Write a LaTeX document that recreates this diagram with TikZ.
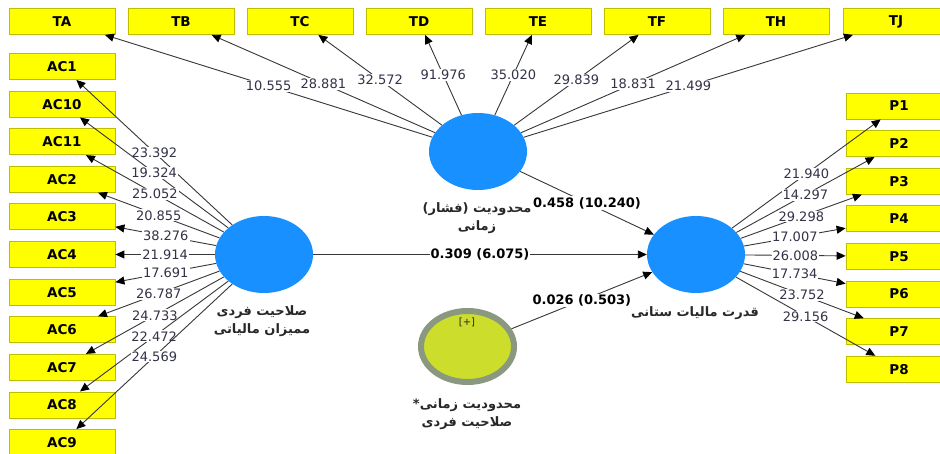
\documentclass[tikz,border=0pt]{standalone}
\usepackage{fontspec}
\setmainfont{DejaVu Sans}
\newfontfamily\fa[Script=Arabic]{DejaVu Sans}
\TeXXeTstate=1
\usetikzlibrary{arrows.meta,shapes.geometric}
\definecolor{boxy}{RGB}{255,255,0}
\definecolor{boxb}{RGB}{190,190,0}
\definecolor{lv}{RGB}{24,144,255}
\definecolor{gfill}{RGB}{204,221,44}
\definecolor{gring}{RGB}{138,152,128}
\definecolor{edgec}{RGB}{55,55,55}
\definecolor{numc}{RGB}{50,50,72}
\definecolor{labc}{RGB}{40,40,40}
\begin{document}
\begin{tikzpicture}[x=1pt,y=-1pt,
 ind/.style={draw=boxb,fill=boxy,line width=0.8pt,minimum width=106pt,minimum height=26pt,inner sep=0pt,font=\bfseries\fontsize{13.5}{15}\selectfont},
 lvar/.style={ellipse,fill=lv,minimum width=98pt,minimum height=77pt,inner sep=0pt},
 ld/.style={draw=edgec,line width=0.9pt,-{Triangle[length=9pt,width=8pt,color=black]}},
 num/.style={midway,fill=white,inner sep=1pt,text=numc,font=\fontsize{13}{15}\selectfont},
 pnum/.style={midway,fill=white,inner sep=1pt,text=black,font=\bfseries\fontsize{13}{15}\selectfont},
 flab/.style={align=center,inner sep=0pt,text=labc,font=\fa\bfseries\fontsize{13}{18}\selectfont}
]
\useasboundingbox (0,0) rectangle (940,454);
\clip (0,0) rectangle (940,454);
\fill[white] (0,0) rectangle (940,454);

% top indicators
\node[ind] (TA) at (62,21.5) {TA};
\node[ind] (TB) at (181,21.5) {TB};
\node[ind] (TC) at (300,21.5) {TC};
\node[ind] (TD) at (419,21.5) {TD};
\node[ind] (TE) at (538,21.5) {TE};
\node[ind] (TF) at (657,21.5) {TF};
\node[ind] (TH) at (776,21.5) {TH};
\node[ind] (TJ) at (896,21.5) {TJ};

% left indicators
\node[ind] (AC1) at (62,66.5) {AC1};
\node[ind] (AC10) at (62,104.1) {AC10};
\node[ind] (AC11) at (62,141.7) {AC11};
\node[ind] (AC2) at (62,179.3) {AC2};
\node[ind] (AC3) at (62,216.9) {AC3};
\node[ind] (AC4) at (62,254.5) {AC4};
\node[ind] (AC5) at (62,292.1) {AC5};
\node[ind] (AC6) at (62,329.7) {AC6};
\node[ind] (AC7) at (62,367.3) {AC7};
\node[ind] (AC8) at (62,404.9) {AC8};
\node[ind] (AC9) at (62,442.5) {AC9};

% right indicators
\node[ind] (P1) at (899,106) {P1};
\node[ind] (P2) at (899,143.6) {P2};
\node[ind] (P3) at (899,181.2) {P3};
\node[ind] (P4) at (899,218.8) {P4};
\node[ind] (P5) at (899,256.4) {P5};
\node[ind] (P6) at (899,294) {P6};
\node[ind] (P7) at (899,331.6) {P7};
\node[ind] (P8) at (899,369.2) {P8};

% latent variables
\node[lvar] (T) at (478,151.5) {};
\node[lvar] (A) at (264,254.5) {};
\node[lvar] (P) at (696,254.5) {};
\node[ellipse,fill=gfill,draw=gring,line width=6pt,minimum width=93pt,minimum height=71pt,inner sep=0pt,outer sep=3pt] (G) at (467.5,346.5) {};
\node[inner sep=0pt,text=labc,font=\fontsize{10}{12}\selectfont] (Gplus) at (467,322) {[+]};

% latent labels
\node[flab] (Tl) at (477,218) {\beginR محدودیت (فشار)\endR\\\beginR زمانی\endR};
\node[flab] (Al) at (262,321) {\beginR صلاحیت فردی\endR\\\beginR ممیزان مالیاتی\endR};
\node[flab] (Pl) at (695,313) {\beginR قدرت مالیات ستانی\endR};
\node[flab] (Gl) at (467,414) {\beginR محدودیت زمانی*\endR\\\beginR صلاحیت فردی\endR};

% outer loadings top
\draw[ld] (T) -- node[num]{10.555} (TA);
\draw[ld] (T) -- node[num]{28.881} (TB);
\draw[ld] (T) -- node[num]{32.572} (TC);
\draw[ld] (T) -- node[num]{91.976} (TD);
\draw[ld] (T) -- node[num]{35.020} (TE);
\draw[ld] (T) -- node[num]{29.839} (TF);
\draw[ld] (T) -- node[num]{18.831} (TH);
\draw[ld] (T) -- node[num]{21.499} (TJ);

% outer loadings left
\draw[ld] (A) -- node[num]{23.392} (AC1);
\draw[ld] (A) -- node[num]{19.324} (AC10);
\draw[ld] (A) -- node[num]{25.052} (AC11);
\draw[ld] (A) -- node[num]{20.855} (AC2);
\draw[ld] (A) -- node[num]{38.276} (AC3);
\draw[ld] (A) -- node[num]{21.914} (AC4);
\draw[ld] (A) -- node[num]{17.691} (AC5);
\draw[ld] (A) -- node[num]{26.787} (AC6);
\draw[ld] (A) -- node[num]{24.733} (AC7);
\draw[ld] (A) -- node[num]{22.472} (AC8);
\draw[ld] (A) -- node[num]{24.569} (AC9);

% outer loadings right
\draw[ld] (P) -- node[num]{21.940} (P1);
\draw[ld] (P) -- node[num]{14.297} (P2);
\draw[ld] (P) -- node[num]{29.298} (P3);
\draw[ld] (P) -- node[num]{17.007} (P4);
\draw[ld] (P) -- node[num]{26.008} (P5);
\draw[ld] (P) -- node[num]{17.734} (P6);
\draw[ld] (P) -- node[num]{23.752} (P7);
\draw[ld] (P) -- node[num]{29.156} (P8);

% paths
\draw[ld] (A) -- node[pnum]{0.309 (6.075)} (P);
\draw[ld] (T) -- node[pnum]{0.458 (10.240)} (P);
\draw[ld] (G) -- node[pnum]{0.026 (0.503)} (P);
\end{tikzpicture}
\end{document}
